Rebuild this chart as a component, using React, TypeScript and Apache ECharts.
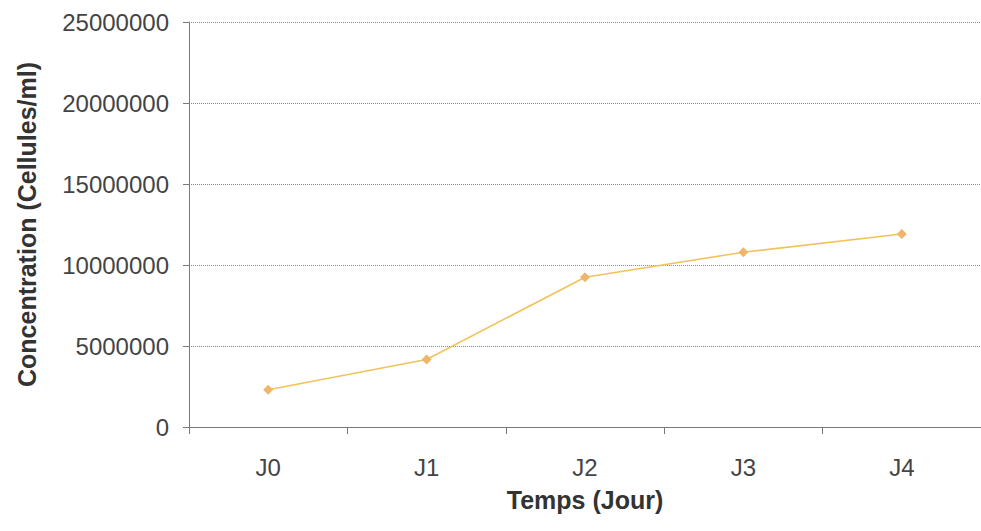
import React, { useEffect, useRef } from "react";
import * as echarts from "echarts";

const categories = ["J0", "J1", "J2", "J3", "J4"];
const concentration = [2300000, 4170000, 9240000, 10790000, 11910000];
const yMin = 0;
const yMax = 25000000;
const yInterval = 5000000;

export default function App() {
  const ref = useRef<HTMLDivElement>(null);
  useEffect(() => {
    if (!ref.current) return;
    const chart = echarts.init(ref.current, null, { renderer: "svg" });
    const font = "Liberation Sans, Arial, sans-serif";
    chart.setOption({
      animation: false,
      backgroundColor: "#ffffff",
      grid: { left: 189, top: 22, width: 800, bottom: 104 },
      xAxis: {
        type: "category",
        data: categories,
        boundaryGap: true,
        axisLine: { lineStyle: { color: "#7a7a7a", width: 1 } },
        axisTick: { show: true, length: 7, inside: false, lineStyle: { color: "#7a7a7a" } },
        axisLabel: { color: "#444", fontSize: 24, fontFamily: font, margin: 28 },
        name: "Temps (Jour)",
        nameLocation: "middle",
        nameGap: 60,
        nameTextStyle: { color: "#333", fontSize: 25, fontWeight: "bold", fontFamily: font },
        splitLine: { show: false },
      },
      yAxis: {
        type: "value",
        min: yMin,
        max: yMax,
        interval: yInterval,
        axisLine: { show: true, lineStyle: { color: "#7a7a7a", width: 1 } },
        axisTick: { show: true, length: 6, lineStyle: { color: "#7a7a7a" } },
        axisLabel: {
          color: "#444",
          fontSize: 24,
          fontFamily: font,
          margin: 20,
          formatter: (v: number) => String(v),
        },
        splitLine: { show: true, lineStyle: { color: "#8a8a8a", type: "dotted", width: 1 } },
        name: "Concentration (Cellules/ml)",
        nameLocation: "middle",
        nameGap: 150,
        nameTextStyle: { color: "#333", fontSize: 25, fontWeight: "bold", fontFamily: font },
      },
      series: [
        {
          type: "line",
          data: concentration,
          symbol: "diamond",
          symbolSize: 10,
          lineStyle: { color: "#f2c25c", width: 1.6 },
          itemStyle: { color: "#f0b46a" },
        },
      ],
    });
    return () => chart.dispose();
  }, []);
  return (
    <div
      ref={ref}
      style={{ position: "fixed", left: 0, top: 0, width: 981, height: 531 }}
    />
  );
}
